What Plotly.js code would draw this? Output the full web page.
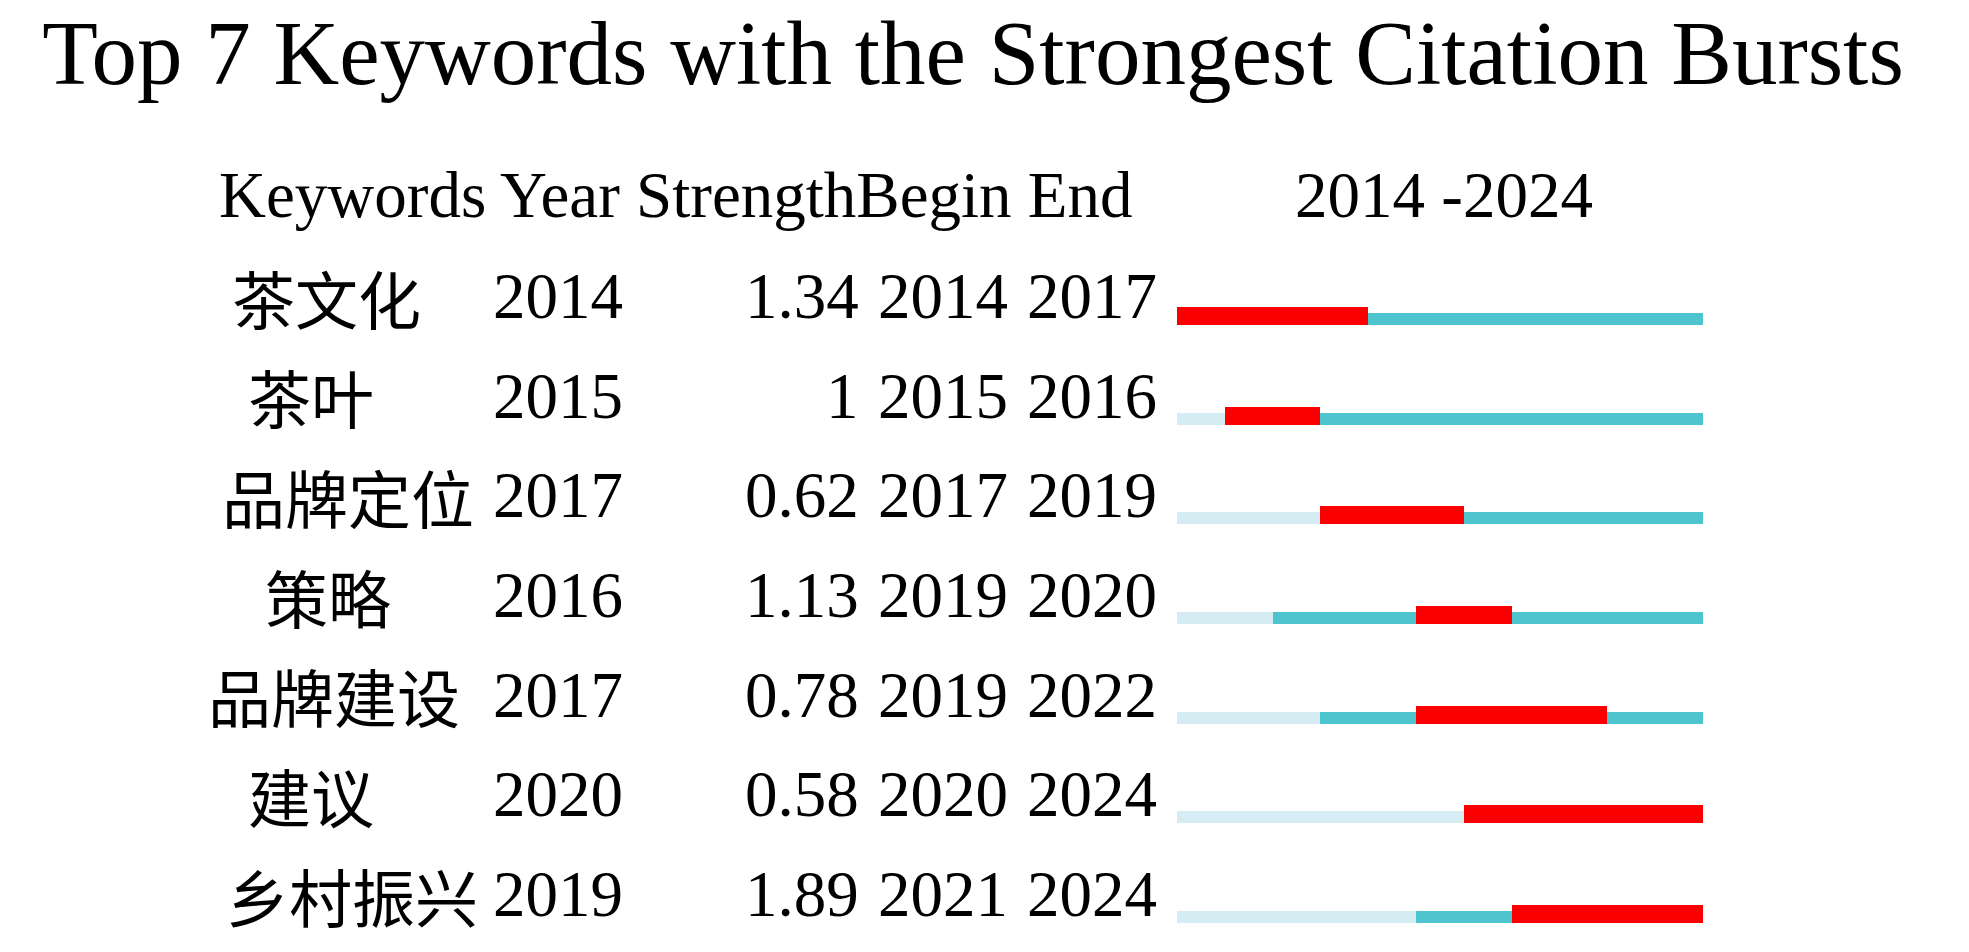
<!DOCTYPE html>
<html><head><meta charset="utf-8">
<script src="https://cdn.plot.ly/plotly-3.0.1.min.js"></script>
<style>html,body{margin:0;padding:0;background:#fff;overflow:hidden;}</style>
</head><body>
<div id="chart" style="width:1969px;height:952px;"></div>
<script>
// ---- data ----
const keywords  = ['茶文化','茶叶','品牌定位','策略','品牌建设','建议','乡村振兴'];
const years     = [2014, 2015, 2017, 2016, 2017, 2020, 2019];
const strengths = [1.34, 1, 0.62, 1.13, 0.78, 0.58, 1.89];
const begins    = [2014, 2015, 2017, 2019, 2019, 2020, 2021];
const ends      = [2017, 2016, 2019, 2020, 2022, 2024, 2024];
const periodStart = 2014;
const periodEnd   = 2024;
const headers = ['Keywords','Year','Strength','Begin','End'];
const titleText = 'Top 7 Keywords with the Strongest Citation Bursts';

// ---- styles / layout ----
const W = 1969, H = 952;
const SERIF = '"Liberation Serif", "Times New Roman", "Noto Sans CJK SC", serif';
const CJK = '"Noto Sans CJK SC", "Liberation Serif", serif';
const colLight = '#d5ecf2', colCyan = '#4ec4ce', colRed = '#fa0000';
const rowPx0 = 316, rowStep = 99.67;           // pixel of first bar centre, row spacing
const yTop = -rowPx0 / rowStep, yBot = (H - rowPx0) / rowStep;
const px = v => v / W;                           // pixel -> paper x
const rows = keywords.map((_, i) => i);
// label column centre (px) for the keyword column, per row, as in the source layout
const kwCenterPx = [326, 311, 348, 328, 334, 311, 352];

const thin = {width: 0.12, offset: -0.03};
const thick = {width: 0.18, offset: -0.09};

const traces = [
  {type:'bar', orientation:'h', y: rows, base: rows.map(() => periodStart),
   x: years.map(y => y - periodStart), width: rows.map(()=>thin.width), offset: thin.offset,
   marker:{color: colLight}, hoverinfo:'skip', showlegend:false},
  {type:'bar', orientation:'h', y: rows, base: years,
   x: years.map(y => periodEnd + 1 - y), width: rows.map(()=>thin.width), offset: thin.offset,
   marker:{color: colCyan}, hoverinfo:'skip', showlegend:false},
  {type:'bar', orientation:'h', y: rows, base: begins,
   x: begins.map((b, i) => ends[i] - b + 1), width: rows.map(()=>thick.width), offset: thick.offset,
   marker:{color: colRed}, hoverinfo:'skip', showlegend:false}
];

const txtFont = {family: SERIF, size: 65, color: '#000'};
const cjkFont = {family: CJK, size: 63, color: '#000'};
const ann = [];
const textDy = -0.2;
rows.forEach(i => {
  const y = i + textDy;
  ann.push({text: keywords[i], x: px(kwCenterPx[i]), xanchor:'center', y, font: cjkFont});
  ann.push({text: String(years[i]), x: px(558), xanchor:'center', y, font: txtFont});
  ann.push({text: String(strengths[i]), x: px(861), xanchor:'right', y, font: txtFont});
  ann.push({text: String(begins[i]), x: px(943), xanchor:'center', y, font: txtFont});
  ann.push({text: String(ends[i]), x: px(1092), xanchor:'center', y, font: txtFont});
});
const hy = (195 - rowPx0) / rowStep;
ann.push({text: headers[0] + ' ' + headers[1] + ' ' + headers[2] + headers[3] + ' ' + headers[4],
          x: px(217), xanchor:'left', y: hy, font: txtFont});
ann.push({text: periodStart + ' -' + periodEnd, x: px(1293), xanchor:'left', y: hy, font: txtFont});
ann.forEach(a => { a.xref = 'paper'; a.yref = 'y'; a.yanchor = 'middle'; a.showarrow = false; });

const layout = {
  width: W, height: H,
  margin: {l:0, r:0, t:0, b:0, pad:0},
  paper_bgcolor:'#fff', plot_bgcolor:'rgba(0,0,0,0)',
  title: {text: titleText, font:{family: SERIF, size: 91, color:'#000'},
          x: 973 / W, xanchor:'center', xref:'paper', y: 1 - 52 / H, yanchor:'middle', yref:'paper'},
  barmode: 'overlay',
  bargap: 0,
  xaxis: {domain: [px(1177), px(1703)], range: [periodStart, periodEnd + 1],
          visible: false, fixedrange: true},
  yaxis: {domain: [0, 1], range: [yBot, yTop], visible: false, fixedrange: true},
  annotations: ann,
  showlegend: false
};

Plotly.newPlot('chart', traces, layout, {displayModeBar:false, staticPlot:true});
</script>
</body></html>
